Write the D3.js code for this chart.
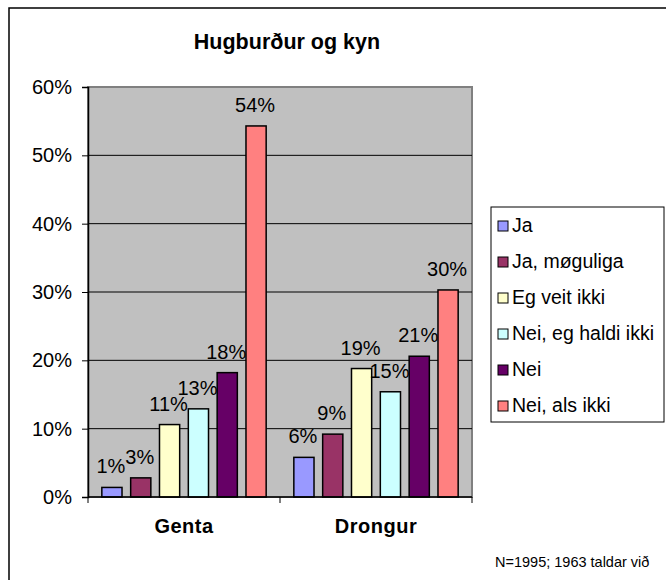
<!DOCTYPE html>
<html>
<head>
<meta charset="utf-8">
<script src="https://cdn.jsdelivr.net/npm/d3@7"></script>
<style>
  body { margin: 0; background: #fff; }
  svg { display: block; font-family: "Liberation Sans", Arial, sans-serif; }
</style>
</head>
<body>
<svg id="chart" width="666" height="580"></svg>
<script>
const categories = ["Genta", "Drongur"];
const series = ["Ja", "Ja, møguliga", "Eg veit ikki", "Nei, eg haldi ikki", "Nei", "Nei, als ikki"];
const gentaValues = [1.4, 2.8, 10.6, 12.9, 18.2, 54.3];
const drongurValues = [5.8, 9.2, 18.8, 15.4, 20.6, 30.3];
const seriesColors = ["#9999FF", "#993366", "#FFFFCC", "#CCFFFF", "#660066", "#FF8080"];
const yTicks = [0, 10, 20, 30, 40, 50, 60];

const rows = [gentaValues, drongurValues];

const svg = d3.select('#chart');

// outer chart frame (right and bottom edges fall outside the picture)
svg.append('rect')
   .attr('x', 9).attr('y', 8)
   .attr('width', 700).attr('height', 620)
   .style('fill', 'none')
   .style('stroke', '#000')
   .style('stroke-width', 1.5);

const plot = {left: 88, right: 472, top: 87, bottom: 497};

const y = d3.scaleLinear()
            .domain([0, 60])
            .range([plot.bottom, plot.top]);

const x0 = d3.scaleBand()
             .domain(categories)
             .range([plot.left, plot.right]);

const x1 = d3.scaleBand()
             .domain(series)
             .range([0, x0.bandwidth()])
             .paddingInner(0.3)
             .paddingOuter(0.48);

// plot background
svg.append('rect')
   .attr('x', plot.left).attr('y', plot.top)
   .attr('width', plot.right - plot.left)
   .attr('height', plot.bottom - plot.top)
   .style('fill', '#C0C0C0')
   .style('stroke', '#808080')
   .style('stroke-width', 2);

// gridlines
svg.selectAll('line.grid')
   .data(yTicks.filter(d => d > 0 && d < 60))
   .enter()
   .append('line')
   .attr('class', 'grid')
   .attr('x1', plot.left).attr('x2', plot.right)
   .attr('y1', d => y(d)).attr('y2', d => y(d))
   .style('stroke', '#000')
   .style('stroke-width', 1);

// y axis
const yAxis = svg.append('g')
   .attr('transform', `translate(${plot.left},0)`)
   .call(d3.axisLeft(y).tickValues(yTicks).tickSize(6).tickPadding(10).tickFormat(d => d + '%'));
yAxis.select('.domain').style('stroke', '#000').style('stroke-width', 1.5);
yAxis.selectAll('.tick line').style('stroke', '#000');
yAxis.selectAll('text')
     .style('font-size', '20px')
     .style('font-family', '"Liberation Sans", Arial, sans-serif')
     .style('fill', '#000');

// bars
const groups = svg.selectAll('g.cat')
   .data(categories)
   .enter()
   .append('g')
   .attr('class', 'cat')
   .attr('transform', d => `translate(${x0(d)},0)`);

groups.selectAll('rect')
      .data((d, i) => rows[i].map((v, j) => ({s: series[j], v: v, c: seriesColors[j]})))
      .enter()
      .append('rect')
      .attr('x', d => x1(d.s))
      .attr('width', x1.bandwidth())
      .attr('y', d => y(d.v))
      .attr('height', d => y(0) - y(d.v))
      .style('fill', d => d.c)
      .style('stroke', '#000')
      .style('stroke-width', 1.5);

groups.selectAll('text.val')
      .data((d, i) => rows[i].map((v, j) => ({s: series[j], v: v})))
      .enter()
      .append('text')
      .attr('class', 'val')
      .attr('x', d => x1(d.s) + x1.bandwidth() / 2 - 1)
      .attr('y', d => y(d.v) - 14)
      .attr('text-anchor', 'middle')
      .style('font-size', '20px')
      .text(d => Math.round(d.v) + '%');

// x axis line and category ticks
svg.append('line')
   .attr('x1', plot.left).attr('x2', plot.right)
   .attr('y1', plot.bottom).attr('y2', plot.bottom)
   .style('stroke', '#000')
   .style('stroke-width', 1.5);

const edges = categories.map(c => x0(c)).concat([x0(categories[categories.length - 1]) + x0.bandwidth()]);
svg.selectAll('line.ctick')
   .data(edges)
   .enter()
   .append('line')
   .attr('class', 'ctick')
   .attr('x1', d => d).attr('x2', d => d)
   .attr('y1', plot.bottom).attr('y2', plot.bottom + 6)
   .style('stroke', '#000');

svg.selectAll('text.cat')
   .data(categories)
   .enter()
   .append('text')
   .attr('class', 'cat')
   .attr('x', d => x0(d) + x0.bandwidth() / 2)
   .attr('y', 533)
   .attr('text-anchor', 'middle')
   .style('font-size', '20px')
   .style('font-weight', 'bold')
   .style('letter-spacing', '0.5px')
   .text(d => d);

// title
svg.append('text')
   .attr('x', 287)
   .attr('y', 49)
   .attr('text-anchor', 'middle')
   .style('font-size', '21.5px')
   .style('font-weight', 'bold')
   .text('Hugburður og kyn');

// legend
const legend = svg.append('g');
legend.append('rect')
      .attr('x', 491).attr('y', 207)
      .attr('width', 173).attr('height', 215)
      .style('fill', '#fff')
      .style('stroke', '#000')
      .style('stroke-width', 1);

const items = legend.selectAll('g.item')
      .data(series)
      .enter()
      .append('g')
      .attr('class', 'item')
      .attr('transform', (d, i) => `translate(498, ${221 + i * 36})`);

items.append('rect')
     .attr('width', 10).attr('height', 10)
     .style('fill', (d, i) => seriesColors[i])
     .style('stroke', '#000')
     .style('stroke-width', 1);

items.append('text')
     .attr('x', 14)
     .attr('y', 11)
     .style('font-size', '19.5px')
     .text(d => d);

// footnote
svg.append('text')
   .attr('x', 495)
   .attr('y', 567)
   .style('font-size', '14.5px')
   .text('N=1995; 1963 taldar við');
</script>
</body>
</html>
